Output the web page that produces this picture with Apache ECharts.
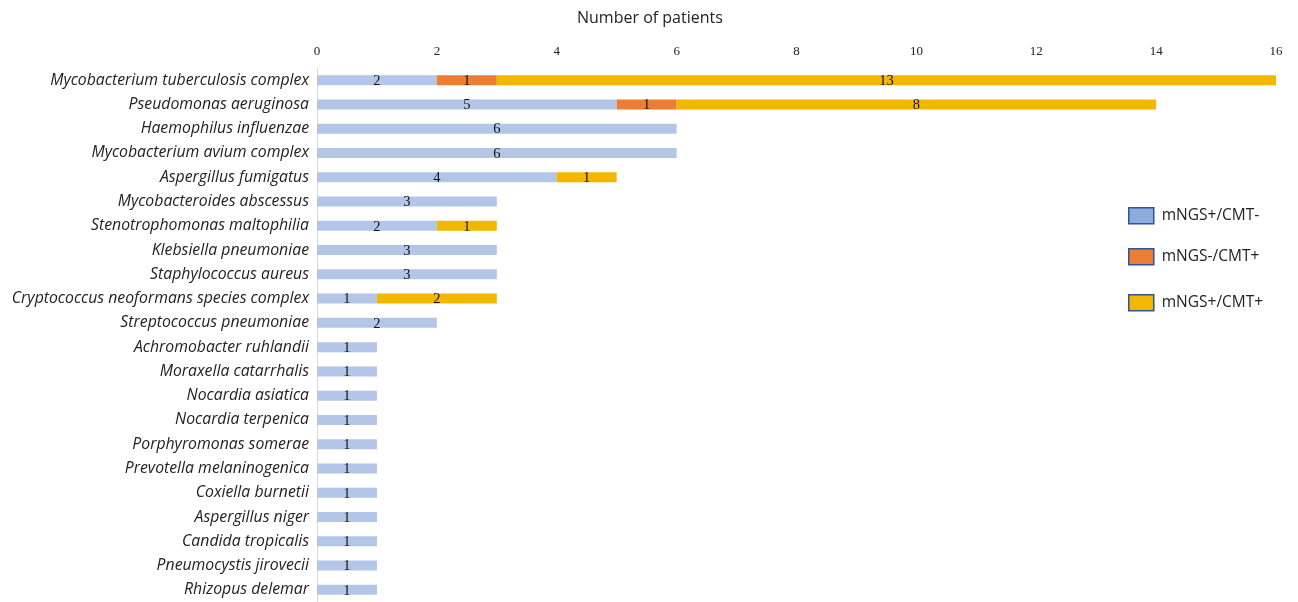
<!DOCTYPE html>
<html>
<head>
<meta charset="utf-8">
<script src="https://cdn.jsdelivr.net/npm/echarts@6/dist/echarts.min.js"></script>
<style>
  html, body { margin: 0; padding: 0; background: #fff; }
  #chart { width: 1298px; height: 602px; }
</style>
</head>
<body>
<div id="chart"></div>
<script>
// Pathogens, listed top to bottom
const pathogens = [
  'Mycobacterium tuberculosis complex',
  'Pseudomonas aeruginosa',
  'Haemophilus influenzae',
  'Mycobacterium avium complex',
  'Aspergillus fumigatus',
  'Mycobacteroides abscessus',
  'Stenotrophomonas maltophilia',
  'Klebsiella pneumoniae',
  'Staphylococcus aureus',
  'Cryptococcus neoformans species complex',
  'Streptococcus pneumoniae',
  'Achromobacter ruhlandii',
  'Moraxella catarrhalis',
  'Nocardia asiatica',
  'Nocardia terpenica',
  'Porphyromonas somerae',
  'Prevotella melaninogenica',
  'Coxiella burnetii',
  'Aspergillus niger',
  'Candida tropicalis',
  'Pneumocystis jirovecii',
  'Rhizopus delemar'
];

// Patient counts per detection pattern
const mngsPosCmtNeg = [2, 5, 6, 6, 4, 3, 2, 3, 3, 1, 2, 1, 1, 1, 1, 1, 1, 1, 1, 1, 1, 1];
const mngsNegCmtPos = [1, 1, 0, 0, 0, 0, 0, 0, 0, 0, 0, 0, 0, 0, 0, 0, 0, 0, 0, 0, 0, 0];
const mngsPosCmtPos = [13, 8, 0, 0, 1, 0, 1, 0, 0, 2, 0, 0, 0, 0, 0, 0, 0, 0, 0, 0, 0, 0];

const seriesNames = ['mNGS+/CMT-', 'mNGS-/CMT+', 'mNGS+/CMT+'];
const axisTicks = [0, 2, 4, 6, 8, 10, 12, 14, 16];

const barColors = ['#B4C6E7', '#ED7D31', '#F2B800'];
const swatchColors = ['#8FAADC', '#ED7D31', '#F2B800'];

const chart = echarts.init(document.getElementById('chart'));

const mk = (name, data, i) => ({
  name: name,
  type: 'bar',
  stack: 'total',
  barWidth: 10,
  data: data.map(v => (v === 0 ? null : v)),
  itemStyle: { color: barColors[i] },
  label: {
    show: true,
    position: 'inside',
    color: '#111',
    fontFamily: 'Liberation Serif',
    fontSize: 14.5,
    offset: [0, 1],
    formatter: p => (p.value ? p.value : '')
  },
  emphasis: { disabled: true }
});

const legendFor = (i, top) => ({
  orient: 'vertical',
  left: 1128,
  top: top,
  padding: 0,
  itemWidth: 25,
  itemHeight: 16,
  data: [{
    name: seriesNames[i],
    itemStyle: { color: swatchColors[i], borderColor: '#2F5597', borderWidth: 1.5 }
  }],
  textStyle: { fontFamily: 'Open Sans', fontSize: 15.5, color: '#222', padding: [0, 0, 0, 3] },
  icon: 'rect',
  selectedMode: false
});

chart.setOption({
  animation: false,
  title: {
    text: 'Number of patients',
    left: 577,
    top: 10,
    padding: 0,
    textStyle: { fontFamily: 'Open Sans', fontWeight: 'normal', fontSize: 16, color: '#222' }
  },
  legend: [legendFor(0, 207), legendFor(1, 248), legendFor(2, 294)],
  grid: { left: 317, right: 22, top: 68, bottom: -1 },
  xAxis: {
    type: 'value',
    position: 'top',
    min: 0,
    max: 16,
    interval: 2,
    axisLine: { show: false },
    axisTick: { show: false },
    splitLine: { show: false },
    axisLabel: {
      margin: 10,
      color: '#222',
      fontFamily: 'Liberation Serif',
      fontSize: 13,
      formatter: v => (axisTicks.includes(v) ? String(v) : '')
    }
  },
  yAxis: {
    type: 'category',
    data: pathogens,
    inverse: true,
    axisLine: { show: true, lineStyle: { color: '#D9D9D9', width: 1 } },
    axisTick: { show: false },
    axisLabel: {
      margin: 8,
      color: '#222',
      fontFamily: 'Open Sans',
      fontStyle: 'italic',
      fontSize: 15.8
    }
  },
  series: [
    mk(seriesNames[0], mngsPosCmtNeg, 0),
    mk(seriesNames[1], mngsNegCmtPos, 1),
    mk(seriesNames[2], mngsPosCmtPos, 2)
  ]
});
</script>
</body>
</html>
